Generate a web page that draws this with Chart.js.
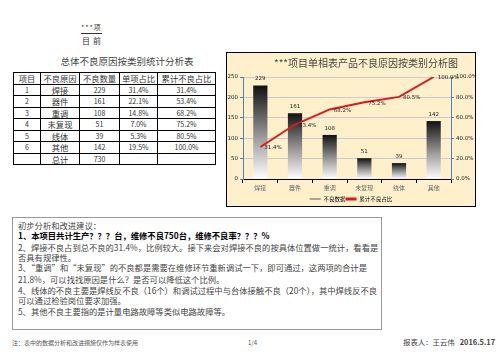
<!DOCTYPE html>
<html lang="zh">
<head>
<meta charset="utf-8">
<title>不良原因分析</title>
<script src="https://cdn.jsdelivr.net/npm/chart.js@4.4.1/dist/chart.umd.min.js"></script>
<style>
  body { margin: 0; width: 503px; height: 356px; background: #fff; position: relative; overflow: hidden;
         font-family: "Noto Sans CJK SC", sans-serif; color: #333; }
  .abs { position: absolute; white-space: nowrap; }
  #hdr1 { left: 81px; top: 23px; font-size: 7px; line-height: 9px; border-bottom: 1px solid #333; padding-bottom: 1px; letter-spacing: 1px; }
  #hdr2 { left: 82px; top: 36px; font-size: 8px; line-height: 9px; letter-spacing: 3px; }
  #tblTitle { left: 60px; top: 55px; width: 134px; text-align: center; font-size: 9.5px; line-height: 12px; color: #444; }
  #stats { position: absolute; left: 13px; top: 72px; border-collapse: collapse; table-layout: fixed; }
  #stats td { border: 1px solid #000; height: 10.5px; padding: 0; text-align: center; font-size: 7px; line-height: 10px; color: #333; }
  #stats tr.head td { font-size: 8.3px; }
  #stats td.cn { font-size: 8.3px; }
  #chartBox { position: absolute; left: 226px; top: 52px; width: 250px; height: 155px; box-sizing: border-box;
              border: 1px solid #000; background: #FDF0CB; overflow: hidden; }
  #chartBox canvas { display: block; }
  #chartTitle { left: 47px; top: 4px; font-size: 10px; line-height: 12px; color: #444; }
  #notes { position: absolute; left: 12px; top: 217px; width: 370px; height: 113px; box-sizing: border-box; border: 1px solid #999; }
  .ln { position: absolute; left: 5px; font-size: 8.3px; line-height: 10px; white-space: nowrap; color: #444; }
  .ln.b { font-weight: bold; color: #000; }
  .foot { top: 339px; font-size: 6px; line-height: 8px; color: #555; }
</style>
</head>
<body>
<div id="hdr1" class="abs">***项</div>
<div id="hdr2" class="abs">目前</div>
<div id="tblTitle" class="abs">总体不良原因按类别统计分析表</div>
<table id="stats"></table>

<div id="chartBox">
  <canvas id="paretoChart" width="248" height="153"></canvas>
  <div id="chartTitle" class="abs">***项目单相表产品不良原因按类别分析图</div>
</div>

<div id="notes">
  <div class="ln" style="top:2px">初步分析和改进建议：</div>
  <div class="ln b" style="top:12px">1、本项目共计生产？？？台，维修不良750台，维修不良率？？？%</div>
  <div class="ln" style="top:24px">2、焊接不良占到总不良的31.4%，比例较大。接下来会对焊接不良的按具体位置做一统计，看看是</div>
  <div class="ln" style="top:34px">否具有规律性。</div>
  <div class="ln" style="top:44px">3、“重调”和“未复现”的不良都是需要在维修环节重新调试一下，即可通过，这两项的合计是</div>
  <div class="ln" style="top:56px">21.8%，可以找找原因是什么？是否可以降低这个比例。</div>
  <div class="ln" style="top:67px">4、线体的不良主要是焊线反不良（16个）和调试过程中与台体接触不良（20个），其中焊线反不良</div>
  <div class="ln" style="top:77px">可以通过检验岗位要求加强。</div>
  <div class="ln" style="top:88px">5、其他不良主要指的是计量电路故障等类似电路故障等。</div>
</div>

<div class="abs foot" style="left:12px">注：表中的数据分析和改进措施仅作为样表使用</div>
<div class="abs foot" style="left:248px">1/4</div>
<div class="abs foot" style="left:403px;font-size:7.4px;color:#444;top:338px">报表人：王云伟 &nbsp;&nbsp;<b>2016.5.17</b></div>

<script>
  // 数据
  const categories = ['焊接', '器件', '重调', '未复现', '线体', '其他'];
  const defectCounts = [229, 161, 108, 51, 39, 142];
  const singlePct = ['31.4%', '22.1%', '14.8%', '7.0%', '5.3%', '19.5%'];
  const cumulativePct = [31.4, 53.4, 68.2, 75.2, 80.5, 100.0];
  const totalCount = 730;
  const tableHeader = ['项目', '不良原因', '不良数量', '单项占比', '累计不良占比'];

  /* ── 统计表 ── */
  (function buildTable() {
    const tbl = document.getElementById('stats');
    const widths = [27, 39, 40, 38, 58];
    let html = '<colgroup>' + widths.map(w => '<col style="width:' + w + 'px">').join('') + '</colgroup>';
    html += '<tr class="head">' + tableHeader.map(h => '<td>' + h + '</td>').join('') + '</tr>';
    categories.forEach((c, i) => {
      html += '<tr><td>' + (i + 1) + '</td><td class="cn">' + c + '</td><td>' + defectCounts[i] +
        '</td><td>' + singlePct[i] + '</td><td>' + cumulativePct[i].toFixed(1) + '%</td></tr>';
    });
    html += '<tr><td></td><td class="cn">总计</td><td>' + totalCount + '</td><td></td><td></td></tr>';
    tbl.innerHTML = html;
  })();

  /* ── 柱子渐变 (黑→白) ── */
  function barGradient(ctx) {
    const chart = ctx.chart;
    if (!chart.chartArea || ctx.type !== 'data') return '#444';
    const yScale = chart.scales.y;
    const top = yScale.getPixelForValue(ctx.raw);
    const bottom = yScale.getPixelForValue(0);
    const g = chart.ctx.createLinearGradient(0, top, 0, bottom);
    g.addColorStop(0, '#111');
    g.addColorStop(0.55, '#9a9a9a');
    g.addColorStop(1, '#ffffff');
    return g;
  }

  /* ── 数值标签 ── */
  const valueLabels = {
    id: 'valueLabels',
    afterDatasetsDraw(chart) {
      const c = chart.ctx;
      c.save();
      c.font = '5.5px "DejaVu Sans", sans-serif';
      c.fillStyle = '#222';
      chart.getDatasetMeta(0).data.forEach((el, i) => {
        c.textAlign = 'center';
        c.textBaseline = 'bottom';
        c.fillText(defectCounts[i], el.x, el.y - 4);
      });
      chart.getDatasetMeta(1).data.forEach((el, i) => {
        c.textAlign = 'left';
        c.textBaseline = 'middle';
        c.fillText(cumulativePct[i].toFixed(1) + '%', el.x + 4, el.y + 1);
      });
      c.restore();
    }
  };

  const tickFont = { size: 5.5, family: '"DejaVu Sans", sans-serif' };

  new Chart(document.getElementById('paretoChart'), {
    data: {
      labels: categories,
      datasets: [
        {
          type: 'bar',
          label: '不良数据',
          data: defectCounts,
          yAxisID: 'y',
          backgroundColor: barGradient,
          categoryPercentage: 1,
          barPercentage: 0.41,
          order: 1
        },
        {
          type: 'line',
          label: '累计不良占比',
          data: cumulativePct,
          yAxisID: 'y1',
          borderColor: '#E3161D',
          borderWidth: 2,
          pointRadius: 0,
          tension: 0,
          order: 0
        }
      ]
    },
    options: {
      responsive: false,
      animation: false,
      // 图例框自带 10px 余量，底部用负边距往下压
      layout: { padding: { top: 24, bottom: -5.75 } },
      plugins: {
        title: { display: false },
        legend: {
          position: 'bottom',
          labels: {
            usePointStyle: true,
            pointStyleWidth: 11,
            boxHeight: 6,
            padding: 0,
            color: '#555',
            font: { size: 5.5, family: '"Noto Sans CJK SC", sans-serif' },
            generateLabels: () => [
              { text: '不良数据', fillStyle: '#8c8c8c', strokeStyle: '#8c8c8c', lineWidth: 1.5, pointStyle: 'line', datasetIndex: 0, hidden: false },
              { text: '累计不良占比', fillStyle: '#E3161D', strokeStyle: '#E3161D', lineWidth: 3, pointStyle: 'line', datasetIndex: 1, hidden: false }
            ]
          }
        },
        tooltip: { enabled: false }
      },
      scales: {
        x: {
          grid: { display: true, drawOnChartArea: false, offset: true, tickLength: 4, color: '#000' },
          border: { color: '#000' },
          ticks: { font: { size: 6, family: '"Noto Sans CJK SC", sans-serif' }, color: '#666', padding: 1 },
          afterFit: s => { s.height = 17.25; }
        },
        y: {
          position: 'left',
          min: 0,
          max: 250,
          ticks: { stepSize: 50, font: tickFont, color: '#222', padding: 2 },
          grid: { color: '#CDC8D2', tickLength: 3, tickColor: '#4F81BD' },
          border: { color: '#4F81BD' },
          afterFit: s => { s.width = 16; }
        },
        y1: {
          position: 'right',
          min: 0,
          max: 100,
          ticks: { stepSize: 20, font: tickFont, color: '#222', padding: 2, callback: v => v.toFixed(1) + '%' },
          grid: { drawOnChartArea: false, tickLength: 3, tickColor: '#4F81BD' },
          border: { color: '#4F81BD' },
          afterFit: s => { s.width = 24; }
        }
      }
    },
    plugins: [valueLabels]
  });
</script>
</body>
</html>
